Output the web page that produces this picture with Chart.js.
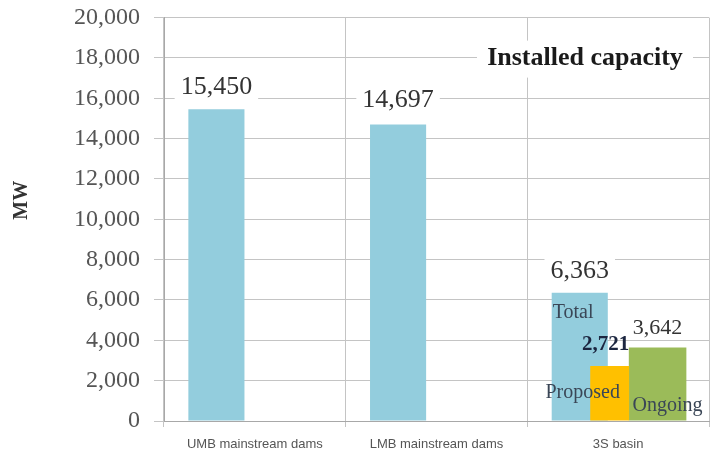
<!DOCTYPE html>
<html><head><meta charset="utf-8">
<script src="https://cdn.jsdelivr.net/npm/chart.js@4"></script>
<style>html,body{margin:0;padding:0;background:#fff;}#wrap{width:717px;height:455px;position:relative;}</style>
</head><body><div id="wrap"><canvas id="c"></canvas></div>
<script>
// ---- data ----
const categories = ['UMB mainstream dams', 'LMB mainstream dams', '3S basin'];
const totalValues = [15450, 14697, 6363];
const proposedValues = [null, null, 2721];
const ongoingValues = [null, null, 3642];
const seriesNames = ['Total', 'Proposed', 'Ongoing'];
const yTickMin = 0, yTickMax = 20000, yTickStep = 2000;
const chartTitle = 'Installed capacity';
const yAxisTitle = 'MW';

// ---- styles ----
const SERIF = '"Liberation Serif", "Times New Roman", serif';
const SANS = '"Liberation Sans", Arial, sans-serif';
const colors = { total: '#93CDDD', proposed: '#FFC000', ongoing: '#9BBB59' };
const fmt = v => Number(v).toLocaleString('en-US');

const labelPlugin = {
  id: 'labels',
  afterDatasetsDraw(chart) {
    const ctx = chart.ctx;
    const ca = chart.chartArea;
    ctx.save();
    // y axis title
    ctx.save();
    ctx.translate(22, (ca.top + ca.bottom) / 2 - 19);
    ctx.rotate(-Math.PI / 2);
    ctx.font = 'bold 20px ' + SERIF;
    ctx.fillStyle = '#333';
    ctx.textAlign = 'center'; ctx.textBaseline = 'middle';
    ctx.fillText(yAxisTitle, 0, 0);
    ctx.restore();

    // title inside the plot
    ctx.font = 'bold 26px ' + SERIF;
    ctx.textAlign = 'center'; ctx.textBaseline = 'middle';
    const tx = ca.right - 124, ty = ca.top + 41;
    ctx.fillStyle = '#fff';
    ctx.fillRect(tx - 108, ty - 18, 216, 37);
    ctx.fillStyle = '#1a1a1a';
    ctx.fillText(chartTitle, tx, ty);

    const drawVal = (el, value, o) => {
      ctx.font = (o.bold ? 'bold ' : '') + o.size + 'px ' + SERIF;
      const txt = fmt(value);
      const w = ctx.measureText(txt).width;
      const x = el.x + (o.dx || 0), y = el.y - o.off;
      if (o.bg) { ctx.fillStyle = '#fff'; ctx.fillRect(x - w / 2 - 6, y - o.size / 2 - 1, w + 12, o.size + 2); }
      ctx.fillStyle = o.color || '#333';
      ctx.textAlign = 'center'; ctx.textBaseline = 'middle';
      ctx.fillText(txt, x, y);
    };
    const tot = chart.getDatasetMeta(0), pro = chart.getDatasetMeta(1), ong = chart.getDatasetMeta(2);
    const totOpts = [{size: 26, off: 22, bg: true}, {size: 26, off: 24, bg: true}, {size: 26, off: 21, bg: true}];
    totalValues.forEach((v, i) => { if (v != null) drawVal(tot.data[i], v, totOpts[i]); });
    ongoingValues.forEach((v, i) => { if (v != null) drawVal(ong.data[i], v, {size: 22, off: 19, bg: false}); });
    proposedValues.forEach((v, i) => { if (v != null) drawVal(pro.data[i], v, {size: 21, off: 22, dx: -4, bold: true, color: '#1c2640'}); });

    // series name labels inside bars
    ctx.fillStyle = '#3a4656';
    ctx.textBaseline = 'middle';
    const i3 = 2;
    const bT = tot.data[i3];
    ctx.font = '20px ' + SERIF; ctx.textAlign = 'left';
    ctx.fillText(seriesNames[0], bT.x - bT.width / 2 + 1, bT.y + 20);
    const bP = pro.data[i3];
    ctx.textAlign = 'center';
    ctx.fillText(seriesNames[1], bP.x - 27, bP.base - 28);
    const bO = ong.data[i3];
    ctx.fillText(seriesNames[2], bO.x + 10, bO.base - 15);
    ctx.restore();
  }
};

new Chart(document.getElementById('c'), {
  type: 'bar',
  data: {
    labels: categories,
    datasets: [
      { label: seriesNames[0], data: totalValues, backgroundColor: colors.total, stack: 'a', order: 1,
        categoryPercentage: 0.846, barPercentage: 0.73 },
      { label: seriesNames[1], data: proposedValues, backgroundColor: colors.proposed, stack: 'a', order: 0,
        categoryPercentage: 0.187, barPercentage: 2.29 },
      { label: seriesNames[2], data: ongoingValues, backgroundColor: colors.ongoing, stack: 'b', order: 2,
        categoryPercentage: 0.868, barPercentage: 0.73 }
    ]
  },
  options: {
    responsive: true, maintainAspectRatio: false, animation: false, devicePixelRatio: 1,
    layout: { padding: { left: 60, right: 8, top: 0, bottom: -7 } },
    plugins: { legend: { display: false }, tooltip: { enabled: false } },
    scales: {
      x: {
        type: 'category', offset: true,
        grid: { offset: true, color: '#c4c4c4', tickLength: 6 },
        border: { color: '#a8a8a8' },
        ticks: { font: { family: SANS, size: 13, lineHeight: 1 }, color: '#555', padding: 11 }
      },
      y: {
        min: yTickMin, max: yTickMax, stacked: false,
        grid: { color: '#c4c4c4', tickLength: 10 },
        border: { color: '#a8a8a8' },
        ticks: { stepSize: yTickStep, font: { family: SERIF, size: 24, lineHeight: 0.3 }, color: '#555', padding: 14,
                 callback: v => fmt(v) }
      }
    }
  },
  plugins: [labelPlugin]
});
</script></body></html>
